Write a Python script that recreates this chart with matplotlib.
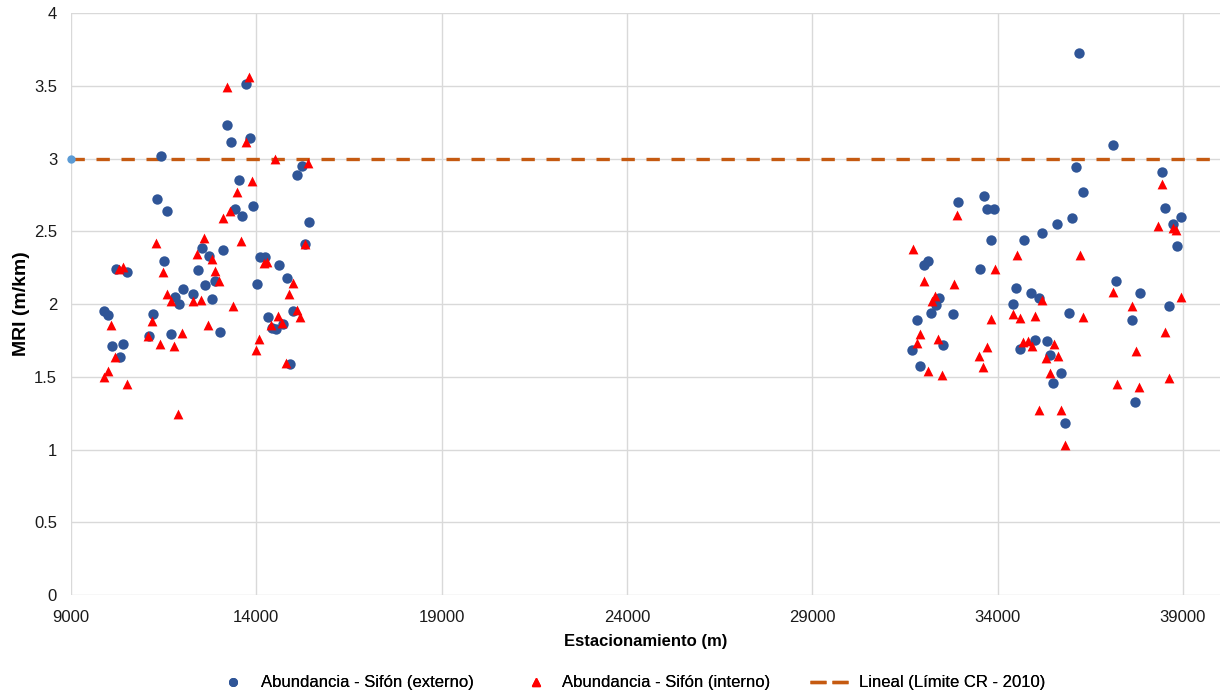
import matplotlib
matplotlib.use("Agg")
import matplotlib.pyplot as plt
from matplotlib.lines import Line2D

plt.rcParams['font.family'] = ['Liberation Sans', 'DejaVu Sans']

# estacionamiento (m) y MRI (m/km) - Sifon externo
ext_x = [13721, 13217, 13308, 13821, 11420, 15232, 15105, 13524, 11320, 11598,
         13416, 13902, 13613, 15413, 12526, 12715, 13109, 11517, 10214, 10503,
         12418, 12615, 12893, 12022, 11814, 11922, 12299, 12804, 14099, 14226,
         14620, 14819, 14010, 15305, 14997, 9890, 10006, 11204, 14307, 14423,
         14522, 14711, 11096, 11706, 13020, 10098, 10411, 10322, 14908,
         36202, 37111, 36105, 38433, 36302, 32921, 33623, 33720, 33909, 38522,
         38938, 36005, 35609, 35196, 34718, 33812, 38730, 38838, 32112, 32004,
         33523, 37200, 37831, 34502, 34907, 35107, 32409, 32328, 34405, 32201,
         32803, 35916, 38622, 31823, 37616, 32517, 31697, 35007, 35323, 34602,
         35411, 31912, 35700, 35501, 35824, 37705]
ext_y = [3.512, 3.232, 3.115, 3.141, 3.019, 2.951, 2.885, 2.854, 2.724, 2.639,
         2.651, 2.676, 2.603, 2.566, 2.383, 2.332, 2.371, 2.298, 2.239, 2.222,
         2.232, 2.133, 2.158, 2.103, 2.050, 1.998, 2.067, 2.036, 2.321, 2.321,
         2.268, 2.181, 2.140, 2.410, 1.952, 1.952, 1.924, 1.931, 1.909, 1.835,
         1.826, 1.863, 1.782, 1.792, 1.808, 1.713, 1.723, 1.634, 1.590,
         3.727, 3.091, 2.944, 2.907, 2.772, 2.699, 2.742, 2.651, 2.651, 2.658,
         2.596, 2.589, 2.548, 2.486, 2.438, 2.438, 2.550, 2.399, 2.293, 2.266,
         2.243, 2.158, 2.076, 2.108, 2.078, 2.041, 2.041, 1.995, 2.002, 1.936,
         1.929, 1.938, 1.986, 1.888, 1.888, 1.716, 1.685, 1.753, 1.748, 1.689,
         1.649, 1.572, 1.528, 1.455, 1.184, 1.326]

# Sifon interno
int_x = [13802, 13200, 13713, 14504, 15402, 13891, 13486, 13298, 13093, 11293,
         12596, 13586, 12391, 12796, 10303, 10395, 11490, 12885, 12985, 14207,
         14296, 14997, 14889, 15305, 11598, 11690, 12283, 12515, 13379, 15089,
         15178, 10079, 11193, 12696, 12003, 14584, 14388, 14684, 11085, 11401,
         11787, 14080, 13991, 10187, 9998, 9890, 10503, 14800, 11879,
         38441, 32911, 38325, 38722, 38819, 31708, 34513, 36213, 33920, 32021,
         32814, 32309, 32220, 35204, 37120, 37632, 38946, 34405, 34610, 35015,
         33820, 36310, 31904, 31815, 32403, 38528, 33704, 33505, 33612, 34691,
         34810, 34926, 35514, 35619, 35312, 37723, 35403, 32128, 32498, 37219,
         37812, 38630, 35107, 35708, 35808]
int_y = [3.558, 3.494, 3.115, 2.995, 2.967, 2.847, 2.768, 2.639, 2.589, 2.421,
         2.452, 2.433, 2.342, 2.309, 2.239, 2.256, 2.218, 2.225, 2.160, 2.280,
         2.291, 2.146, 2.067, 2.410, 2.067, 2.019, 2.023, 2.030, 1.986, 1.959,
         1.913, 1.856, 1.883, 1.858, 1.803, 1.920, 1.856, 1.872, 1.782, 1.723,
         1.713, 1.762, 1.686, 1.634, 1.542, 1.500, 1.450, 1.595, 1.242,
         2.823, 2.610, 2.534, 2.520, 2.509, 2.380, 2.339, 2.335, 2.241, 2.158,
         2.137, 2.055, 2.023, 2.027, 2.080, 1.986, 2.048, 1.929, 1.902, 1.920,
         1.899, 1.913, 1.792, 1.733, 1.761, 1.810, 1.707, 1.641, 1.569, 1.741,
         1.748, 1.711, 1.724, 1.641, 1.629, 1.674, 1.524, 1.542, 1.512, 1.448,
         1.427, 1.489, 1.271, 1.271, 1.031]

limite_x = [9000]
limite_y = [3.0]

x_ticks = [9000, 14000, 19000, 24000, 29000, 34000, 39000]
y_ticks = [0, 0.5, 1, 1.5, 2, 2.5, 3, 3.5, 4]
y_labels = ['0', '0.5', '1', '1.5', '2', '2.5', '3', '3.5', '4']

AZUL = '#2F5597'
ROJO = '#FF0000'
NARANJA = '#C55A11'

fig = plt.figure(figsize=(12.22, 6.96), dpi=100)
ax = fig.add_axes([71 / 1222, 1 - 595 / 696, (1220 - 71) / 1222, 582 / 696])

ax.scatter(ext_x, ext_y, s=56, color=AZUL, marker='o', linewidths=0, zorder=3)
ax.scatter(int_x, int_y, s=50, color=ROJO, marker='^', linewidths=0, zorder=3)
ax.scatter(limite_x, limite_y, s=36, color='#5B9BD5', linewidths=0, zorder=4,
           clip_on=False)
ax.axhline(limite_y[0], color=NARANJA, lw=2.4, linestyle=(0, (4, 3.5)),
           zorder=2)

ax.set_xlim(9000, 40000)
ax.set_ylim(0, 4)
ax.set_xticks(x_ticks)
ax.set_yticks(y_ticks)
ax.set_yticklabels(y_labels)
ax.grid(True, color='#D9D9D9', lw=1.0)
ax.set_axisbelow(True)
for s in ax.spines.values():
    s.set_visible(False)
ax.tick_params(length=0, labelsize=12, colors='#1a1a1a')
ax.tick_params(axis='x', pad=11)
ax.tick_params(axis='y', pad=10)

ax.set_xlabel('Estacionamiento (m)', fontsize=12, fontweight='bold', labelpad=6)
ax.set_ylabel('MRI (m/km)', fontsize=14, fontweight='bold', labelpad=3)

# leyenda: cada entrada por separado, como en el original
entradas = [
    (Line2D([], [], marker='o', color=AZUL, linestyle='none', markersize=5.5),
     'Abundancia - Sifón (externo)', 224.6 / 1222, 1.0, 1.2),
    (Line2D([], [], marker='^', color=ROJO, linestyle='none', markersize=5.5),
     'Abundancia - Sifón (interno)', 527.7 / 1222, 1.0, 1.05),
    (Line2D([], [], color=NARANJA, lw=2.4, linestyle=(0, (4.8, 1.8))),
     'Lineal (Límite CR - 2010)', 810 / 1222, 2.35, 0.6),
]
for h, txt, x0, hl, tp in entradas:
    leg = fig.legend([h], [txt], loc='center left',
                     bbox_to_anchor=(x0, 1 - 683 / 696), frameon=False,
                     fontsize=12, handlelength=hl, handletextpad=tp,
                     borderpad=0, borderaxespad=0)
    fig.add_artist(leg)

fig.savefig('out.png', dpi=100)
